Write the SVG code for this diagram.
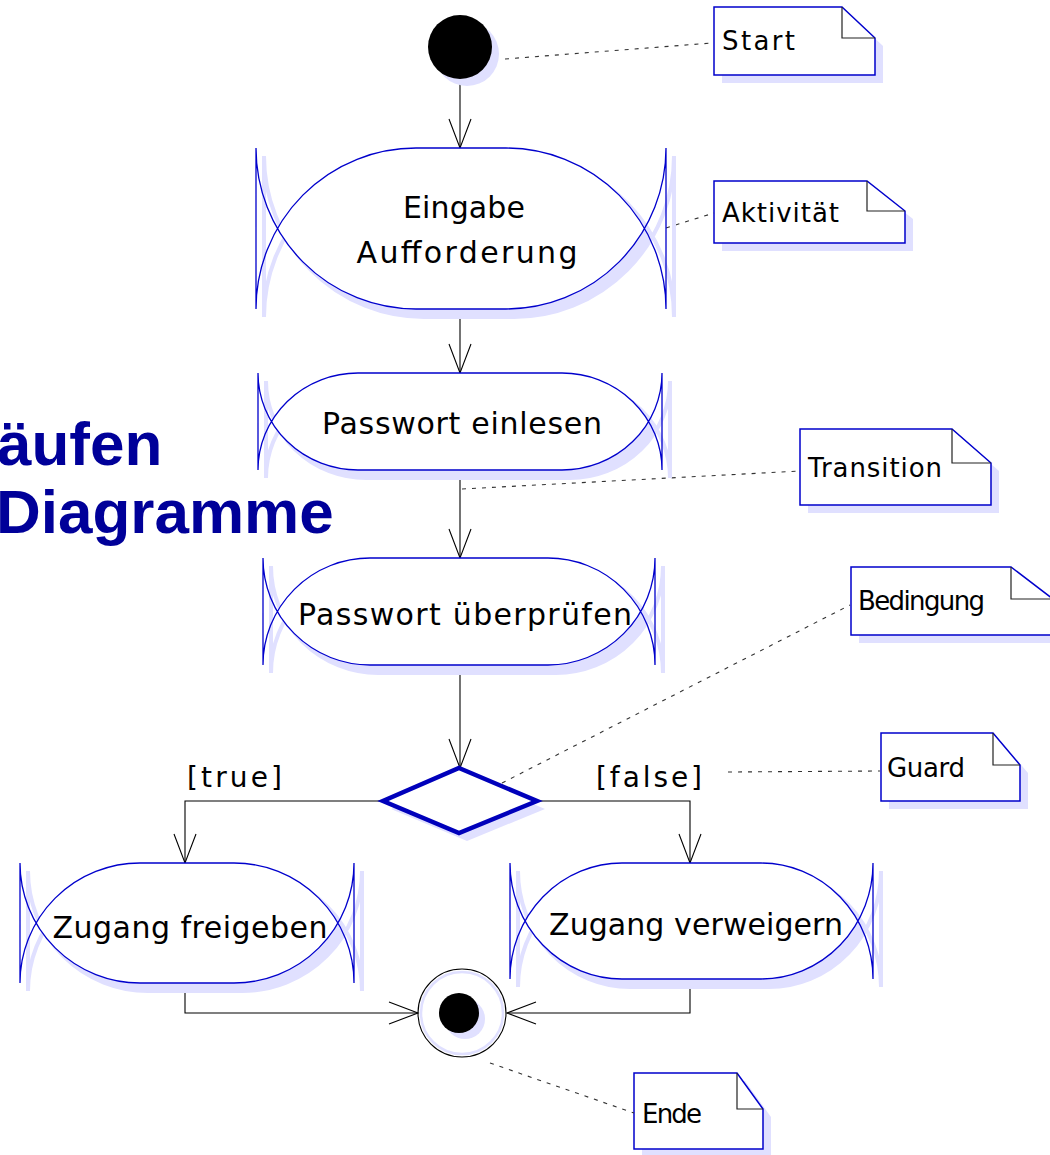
<svg xmlns="http://www.w3.org/2000/svg" xmlns:xlink="http://www.w3.org/1999/xlink" width="1050" height="1155" viewBox="0 0 1050 1155">
  <style>
    .title { font-family: "Liberation Sans", Arial, sans-serif; font-weight: bold; font-size: 62px; fill: #000099; }
    .act-text { font-family: "DejaVu Sans", "Noto Sans", sans-serif; font-size: 30px; fill: #000; text-anchor: middle; }
    .note-text { font-family: "DejaVu Sans", "Noto Sans", sans-serif; font-size: 26px; fill: #000; }
    .guard-text { font-family: "DejaVu Sans", "Noto Sans", sans-serif; font-size: 28px; fill: #000; }
    .sh-fill { fill: #e0e0ff; stroke: none; }
    .sh-line { fill: none; stroke: #e0e0ff; stroke-width: 4; }
    .act-fill { fill: #fff; stroke: none; }
    .act-line { fill: none; stroke: #0000cc; stroke-width: 1.3; }
    .note-box { fill: #fff; stroke: #0000cc; stroke-width: 1.5; }
    .note-fold { fill: none; stroke: #222; stroke-width: 1.2; }
    .flow { fill: none; stroke: #000; stroke-width: 1.1; }
    .anchor { fill: none; stroke: #333; stroke-width: 1.1; stroke-dasharray: 4 6; }
    .decision { fill: #fff; stroke: #0000bb; stroke-width: 4.5; stroke-linejoin: miter; }
  </style>
  <defs>
    <marker id="open-arrow" markerUnits="userSpaceOnUse" markerWidth="40" markerHeight="40" refX="0" refY="0" orient="auto" overflow="visible">
      <path d="M-29,-11 L0,0 L-29,11" fill="none" stroke="#000" stroke-width="1.1"/>
    </marker>

    <!-- activity shapes: lens-shaped fill plus crossing arcs and side bars -->
    <path id="a1-fill" d="M416,148 H506 A160,161 0 0 1 644.6,228.5 A160,161 0 0 1 506,309 H416 A160,161 0 0 1 277.4,228.5 A160,161 0 0 1 416,148 Z"/>
    <path id="a1-line" d="M256,148 V309 M666,148 V309 M416,148 H506 M416,309 H506 M416,148 A160,161 0 0 0 256,309 M256,148 A160,161 0 0 0 416,309 M506,148 A160,161 0 0 1 666,309 M666,148 A160,161 0 0 1 506,309"/>

    <path id="a2-fill" d="M358,373 H562 A100,97 0 0 1 648.6,421.5 A100,97 0 0 1 562,470 H358 A100,97 0 0 1 271.4,421.5 A100,97 0 0 1 358,373 Z"/>
    <path id="a2-line" d="M258,373 V470 M662,373 V470 M358,373 H562 M358,470 H562 M358,373 A100,97 0 0 0 258,470 M258,373 A100,97 0 0 0 358,470 M562,373 A100,97 0 0 1 662,470 M662,373 A100,97 0 0 1 562,470"/>

    <path id="a3-fill" d="M370,558 H548 A107,107 0 0 1 640.7,611.5 A107,107 0 0 1 548,665 H370 A107,107 0 0 1 277.3,611.5 A107,107 0 0 1 370,558 Z"/>
    <path id="a3-line" d="M263,558 V665 M655,558 V665 M370,558 H548 M370,665 H548 M370,558 A107,107 0 0 0 263,665 M263,558 A107,107 0 0 0 370,665 M548,558 A107,107 0 0 1 655,665 M655,558 A107,107 0 0 1 548,665"/>

    <path id="a4-fill" d="M140,863 H234 A120,120 0 0 1 337.9,923 A120,120 0 0 1 234,983 H140 A120,120 0 0 1 36.1,923 A120,120 0 0 1 140,863 Z"/>
    <path id="a4-line" d="M20,863 V983 M354,863 V983 M140,863 H234 M140,983 H234 M140,863 A120,120 0 0 0 20,983 M20,863 A120,120 0 0 0 140,983 M234,863 A120,120 0 0 1 354,983 M354,863 A120,120 0 0 1 234,983"/>

    <path id="a5-fill" d="M622,863 H761 A112,116 0 0 1 858,921 A112,116 0 0 1 761,979 H622 A112,116 0 0 1 525,921 A112,116 0 0 1 622,863 Z"/>
    <path id="a5-line" d="M510,863 V979 M873,863 V979 M622,863 H761 M622,979 H761 M622,863 A112,116 0 0 0 510,979 M510,863 A112,116 0 0 0 622,979 M761,863 A112,116 0 0 1 873,979 M873,863 A112,116 0 0 1 761,979"/>
  </defs>

  <rect x="0" y="0" width="1050" height="1155" fill="#fff"/>

  <!-- slide heading fragments -->
  <g id="heading">
    <text class="title" x="-3" y="465">äufen</text>
    <text class="title" x="-4" y="533">Diagramme</text>
  </g>

  <!-- notes -->
  <g id="note-start">
    <path class="sh-fill" d="M722,15 H850 L883,46 V83 H722 Z"/>
    <path class="note-box" d="M714,7 H842 L875,38 V75 H714 Z"/>
    <path class="note-fold" d="M842,7 V38 H875"/>
    <text class="note-text" x="722" y="50" textLength="73">Start</text>
  </g>
  <g id="note-aktivitaet">
    <path class="sh-fill" d="M722,189 H875 L913,219 V251 H722 Z"/>
    <path class="note-box" d="M714,181 H867 L905,211 V243 H714 Z"/>
    <path class="note-fold" d="M867,181 V211 H905"/>
    <text class="note-text" x="722" y="222" textLength="117">Aktivität</text>
  </g>
  <g id="note-transition">
    <path class="sh-fill" d="M808,437 H960 L999,471 V513 H808 Z"/>
    <path class="note-box" d="M800,429 H952 L991,463 V505 H800 Z"/>
    <path class="note-fold" d="M952,429 V463 H991"/>
    <text class="note-text" x="808" y="477" textLength="134">Transition</text>
  </g>
  <g id="note-bedingung">
    <path class="sh-fill" d="M859,575 H1019 L1061,607 V643 H859 Z"/>
    <path class="note-box" d="M851,567 H1011 L1053,599 V635 H851 Z"/>
    <path class="note-fold" d="M1011,567 V599 H1053"/>
    <text class="note-text" x="858" y="610" textLength="127">Bedingung</text>
  </g>
  <g id="note-guard">
    <path class="sh-fill" d="M889,741 H1001 L1028,773 V809 H889 Z"/>
    <path class="note-box" d="M881,733 H993 L1020,765 V801 H881 Z"/>
    <path class="note-fold" d="M993,733 V765 H1020"/>
    <text class="note-text" x="887" y="777" textLength="78">Guard</text>
  </g>
  <g id="note-ende">
    <path class="sh-fill" d="M642,1081 H745 L771,1117 V1157 H642 Z"/>
    <path class="note-box" d="M634,1073 H737 L763,1109 V1149 H634 Z"/>
    <path class="note-fold" d="M737,1073 V1109 H763"/>
    <text class="note-text" x="642" y="1123" textLength="60">Ende</text>
  </g>

  <!-- connectors: control flow and note anchors -->
  <g id="connectors">
    <path class="flow" d="M460,84 V148" marker-end="url(#open-arrow)"/>
    <path class="flow" d="M460,309 V373" marker-end="url(#open-arrow)"/>
    <path class="flow" d="M460,470 V558" marker-end="url(#open-arrow)"/>
    <path class="flow" d="M460,665 V768" marker-end="url(#open-arrow)"/>
    <path class="flow" d="M383,801 H185 V863" marker-end="url(#open-arrow)"/>
    <path class="flow" d="M537,801 H690 V863" marker-end="url(#open-arrow)"/>
    <path class="flow" d="M185,983 V1013 H418" marker-end="url(#open-arrow)"/>
    <path class="flow" d="M690,979 V1013 H507" marker-end="url(#open-arrow)"/>

    <path class="anchor" d="M505,59 L712,43"/>
    <path class="anchor" d="M666,228 L714,213"/>
    <path class="anchor" d="M462,489 L800,471"/>
    <path class="anchor" d="M502,783 L850,605"/>
    <path class="anchor" d="M728,772 L880,771"/>
    <path class="anchor" d="M490,1063 L634,1113"/>

    <text class="guard-text" x="187" y="787" textLength="95">[true]</text>
    <text class="guard-text" x="596" y="787" textLength="106">[false]</text>
  </g>

  <!-- initial node -->
  <g id="start">
    <circle cx="467" cy="54" r="32" fill="#e0e0ff"/>
    <circle cx="460" cy="47" r="32" fill="#000"/>
  </g>

  <!-- activities -->
  <g id="eingabe-aufforderung">
    <use xlink:href="#a1-fill" class="sh-fill" transform="translate(8,8)"/>
    <use xlink:href="#a1-line" class="sh-line" transform="translate(8,8)"/>
    <use xlink:href="#a1-fill" class="act-fill"/>
    <use xlink:href="#a1-line" class="act-line"/>
    <text class="act-text" x="464" y="218" textLength="122">Eingabe</text>
    <text class="act-text" x="467" y="263" textLength="221">Aufforderung</text>
  </g>
  <g id="passwort-einlesen">
    <use xlink:href="#a2-fill" class="sh-fill" transform="translate(8,8)"/>
    <use xlink:href="#a2-line" class="sh-line" transform="translate(8,8)"/>
    <use xlink:href="#a2-fill" class="act-fill"/>
    <use xlink:href="#a2-line" class="act-line"/>
    <text class="act-text" x="462" y="434" textLength="280">Passwort einlesen</text>
  </g>
  <g id="passwort-ueberpruefen">
    <use xlink:href="#a3-fill" class="sh-fill" transform="translate(8,8)"/>
    <use xlink:href="#a3-line" class="sh-line" transform="translate(8,8)"/>
    <use xlink:href="#a3-fill" class="act-fill"/>
    <use xlink:href="#a3-line" class="act-line"/>
    <text class="act-text" x="465" y="625" textLength="334">Passwort überprüfen</text>
  </g>
  <g id="zugang-freigeben">
    <use xlink:href="#a4-fill" class="sh-fill" transform="translate(8,8)"/>
    <use xlink:href="#a4-line" class="sh-line" transform="translate(8,8)"/>
    <use xlink:href="#a4-fill" class="act-fill"/>
    <use xlink:href="#a4-line" class="act-line"/>
    <text class="act-text" x="190" y="938" textLength="275">Zugang freigeben</text>
  </g>
  <g id="zugang-verweigern">
    <use xlink:href="#a5-fill" class="sh-fill" transform="translate(8,8)"/>
    <use xlink:href="#a5-line" class="sh-line" transform="translate(8,8)"/>
    <use xlink:href="#a5-fill" class="act-fill"/>
    <use xlink:href="#a5-line" class="act-line"/>
    <text class="act-text" x="696" y="935" textLength="294">Zugang verweigern</text>
  </g>

  <!-- decision -->
  <g id="decision">
    <path class="sh-fill" d="M467,776 L545,809 L467,841 L391,809 Z"/>
    <path class="decision" d="M459,768 L537,801 L459,833 L383,801 Z"/>
  </g>

  <!-- final node -->
  <g id="end">
    <circle cx="462" cy="1013" r="41" fill="none" stroke="#e0e0ff" stroke-width="2.5"/>
    <circle cx="462" cy="1013" r="44" fill="none" stroke="#000" stroke-width="1.1"/>
    <circle cx="465" cy="1019" r="20" fill="#e0e0ff"/>
    <circle cx="459" cy="1013" r="20" fill="#000"/>
  </g>
</svg>
